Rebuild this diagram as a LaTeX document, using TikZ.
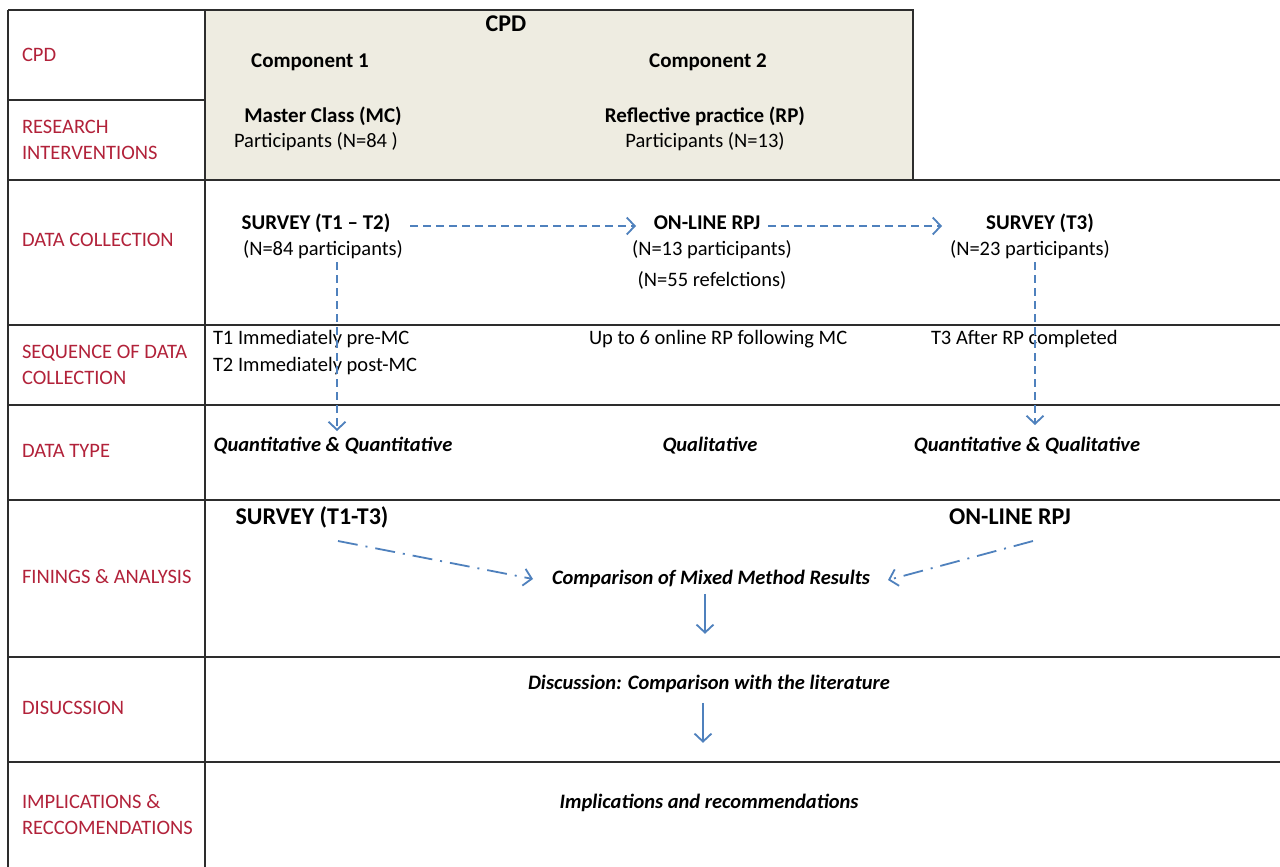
\documentclass[tikz,border=0pt]{standalone}
\usepackage{fontspec}
\setmainfont{Carlito}
\usetikzlibrary{arrows.meta,calc}
\definecolor{lab}{RGB}{178,34,58}
\definecolor{arr}{RGB}{79,129,189}
\definecolor{cpdfill}{RGB}{238,236,225}
\definecolor{grid}{RGB}{45,45,45}
\begin{document}
\begin{tikzpicture}[x=1pt,y=-1pt,
  every node/.style={inner sep=0pt,outer sep=2pt,font=\fontsize{20.5}{24}\selectfont},
  rowlab/.style={anchor=west,text=lab,align=left,font=\fontsize{20.5}{26}\selectfont},
  bld/.style={font=\fontsize{21}{24}\selectfont\bfseries},
  bigbld/.style={font=\fontsize{24}{28}\selectfont\bfseries},
  itl/.style={font=\fontsize{20.5}{24}\selectfont\bfseries\itshape},
  tline/.style={draw=grid,line width=1.7pt},
  tip/.style={-{Straight Barb[length=8pt,width=17pt,line width=1.8pt]}},
  dasharr/.style={draw=arr,line width=1.6pt,dash pattern=on 8pt off 5pt,tip},
  dotarr/.style={draw=arr,line width=1.8pt,dash pattern=on 20pt off 8pt on 2pt off 8pt,tip},
  solarr/.style={draw=arr,line width=1.6pt,tip}]
\useasboundingbox (0,0) rectangle (1280,867);
\fill[white] (0,0) rectangle (1280,867);
% shaded CPD box
\fill[cpdfill] (205,10) rectangle (913,180);
% table lines
\draw[tline] (8,10) -- (913,10) -- (913,180);
\draw[tline] (8,10) -- (8,867);
\draw[tline] (205,10) -- (205,867);
\draw[tline] (8,100) -- (205,100);
\foreach \yy in {180,325,405,500,657,762}
  \draw[tline] (8,\yy) -- (1280,\yy);
% row labels
\node[rowlab] (l1) at (20,55) {CPD};
\node[rowlab] (l2) at (20,140) {RESEARCH\\INTERVENTIONS};
\node[rowlab] (l3) at (20,240) {DATA COLLECTION};
\node[rowlab] (l4) at (20,365) {SEQUENCE OF DATA\\COLLECTION};
\node[rowlab] (l5) at (20,451) {DATA TYPE};
\node[rowlab] (l6) at (20,577) {FININGS \& ANALYSIS};
\node[rowlab] (l7) at (20,708) {DISUCSSION};
\node[rowlab] (l8) at (20,815) {IMPLICATIONS \&\\RECCOMENDATIONS};
% CPD box content
\node[bigbld] (cpd) at (506,24) {CPD};
\node[bld] (c1) at (310,62) {Component 1};
\node[bld] (c2) at (708,62) {Component 2};
\node[bld] (mc) at (323,116) {Master Class (MC)};
\node (p84) at (316,142) {Participants (N=84 )};
\node[bld] (rp) at (705,116) {Reflective practice (RP)};
\node (p13) at (705,142) {Participants (N=13)};
% data collection
\node[bld] (s12) at (316,223) {SURVEY (T1 -- T2)};
\node (n84) at (323,250) {(N=84 participants)};
\node[bld] (orpj) at (707,223) {ON-LINE RPJ};
\node (n13) at (712,250) {(N=13 participants)};
\node (n55) at (712,280) {(N=55 refelctions)};
\node[bld] (s3) at (1040,223) {SURVEY (T3)};
\node (n23) at (1030,250) {(N=23 participants)};
% sequence
\node[anchor=west] (t1) at (211,339) {T1 Immediately pre-MC};
\node[anchor=west] (t2) at (211,366) {T2 Immediately post-MC};
\node[anchor=west] (up6) at (587,339) {Up to 6 online RP following MC};
\node[anchor=west] (t3) at (929,339) {T3 After RP completed};
% data type
\node[itl] (dt1) at (333,446) {Quantitative \& Quantitative};
\node[itl] (dt2) at (710,446) {Qualitative};
\node[itl] (dt3) at (1027,446) {Quantitative \& Qualitative};
% findings
\node[bigbld] (f1) at (312,517) {SURVEY (T1-T3)};
\node[bigbld] (f2) at (1010,517) {ON-LINE RPJ};
\node[itl] (cmp) at (711,579) {Comparison of Mixed Method Results};
\node[itl] (disc) at (709,684) {Discussion: Comparison with the literature};
\node[itl] (impl) at (709,803) {Implications and recommendations};
% arrows
\coordinate (a1s) at (410,226);
\coordinate (a1e) at (636,226);
\draw[dasharr] (a1s) -- (a1e);
\coordinate (a2s) at (768,226);
\coordinate (a2e) at (942,226);
\draw[dasharr] (a2s) -- (a2e);
\coordinate (v1s) at (337,262);
\coordinate (v1e) at (337,431);
\draw[dasharr] (v1s) -- (v1e);
\coordinate (v2s) at (1035,262);
\coordinate (v2e) at (1035,425);
\draw[dasharr] (v2s) -- (v2e);
\coordinate (d1s) at (338,541);
\coordinate (d1e) at (533,579);
\draw[dotarr] (d1s) -- (d1e);
\coordinate (d2s) at (1033,541);
\coordinate (d2e) at (888,580);
\draw[dotarr] (d2s) -- (d2e);
\draw[solarr] ($(cmp.south)+(-6,4)$) -- ($(cmp.south)+(-6,44)$) coordinate (sa1);
\draw[solarr] ($(disc.south)+(-6,8)$) -- ($(disc.south)+(-6,48)$) coordinate (sa2);
\end{tikzpicture}
\end{document}
